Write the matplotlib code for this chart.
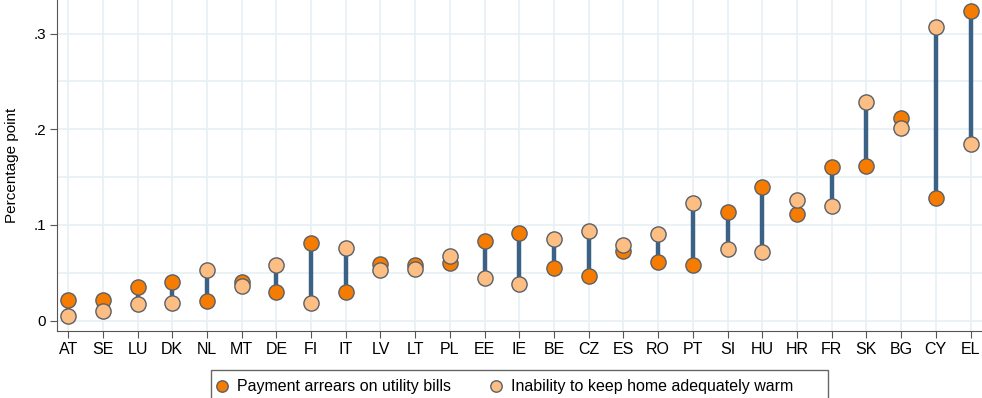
import numpy as np
import matplotlib.pyplot as plt
from matplotlib.patches import Rectangle
from matplotlib.ticker import MultipleLocator

plt.rcParams['font.family'] = ['Liberation Sans', 'DejaVu Sans']

countries = ['AT', 'SE', 'LU', 'DK', 'NL', 'MT', 'DE', 'FI', 'IT', 'LV', 'LT',
             'PL', 'EE', 'IE', 'BE', 'CZ', 'ES', 'RO', 'PT', 'SI', 'HU', 'HR',
             'FR', 'SK', 'BG', 'CY', 'EL']
arrears = [0.022, 0.022, 0.035, 0.040, 0.021, 0.040, 0.030, 0.081, 0.030, 0.059,
           0.058, 0.060, 0.083, 0.092, 0.055, 0.047, 0.073, 0.061, 0.058, 0.113,
           0.140, 0.111, 0.161, 0.162, 0.212, 0.128, 0.324]
warm = [0.005, 0.010, 0.017, 0.018, 0.053, 0.036, 0.058, 0.018, 0.076, 0.053,
        0.054, 0.068, 0.045, 0.038, 0.085, 0.094, 0.079, 0.091, 0.123, 0.075,
        0.072, 0.126, 0.120, 0.228, 0.201, 0.307, 0.185]

W, H = 982, 398
x = np.arange(len(countries))

fig = plt.figure(figsize=(W / 100, H / 100), dpi=100)
ax = fig.add_axes([57 / W, 1 - 331 / H, 925 / W, 331 / H])

# vertical connectors between the two indicators
ax.vlines(x, arrears, warm, color='#3b6186', linewidth=3.2, zorder=2)
ax.scatter(x, arrears, s=120, color='#f57c00', edgecolors='#5a6068',
           linewidths=1.0, zorder=3, label='Payment arrears on utility bills')
ax.scatter(x, warm, s=120, color='#fdbe84', edgecolors='#5a6068',
           linewidths=1.0, zorder=4, label='Inability to keep home adequately warm')

ax.set_xlim(-0.32, len(countries) - 1 + 0.33)
ax.set_ylim(-0.0108, 0.335)
ax.set_xticks(x)
ax.set_xticklabels(countries, fontsize=11.5)
ax.yaxis.set_minor_locator(MultipleLocator(0.05))
ax.set_yticks([0, 0.1, 0.2, 0.3])
ax.set_yticklabels(['0', '.1', '.2', '.3'], fontsize=11)
ax.set_ylabel('Percentage point', fontsize=11, labelpad=10)

ax.grid(True, which='both', color='#e8f0f3', linewidth=1.2, zorder=0)
ax.set_axisbelow(True)
for side in ['top', 'right']:
    ax.spines[side].set_visible(False)
for side in ['left', 'bottom']:
    ax.spines[side].set_color('#555555')
ax.tick_params(which='major', direction='out', length=5, color='#555555', pad=3)
ax.tick_params(which='minor', length=0)

# legend box runs past the bottom edge of the figure
fig.patches.append(Rectangle((211 / W, -0.05), (828 - 211) / W, 0.05 + 1 - 370 / H,
                             transform=fig.transFigure, fill=False,
                             edgecolor='#666666', linewidth=1.0))
fig.legend(loc='center left', bbox_to_anchor=(214 / W, 1 - 386 / H),
           ncol=2, fontsize=11.5, frameon=False, borderpad=0, borderaxespad=0,
           handlelength=1.0, handletextpad=0.45, columnspacing=2.3,
           markerscale=0.75)

fig.savefig('out.png', dpi=100)
